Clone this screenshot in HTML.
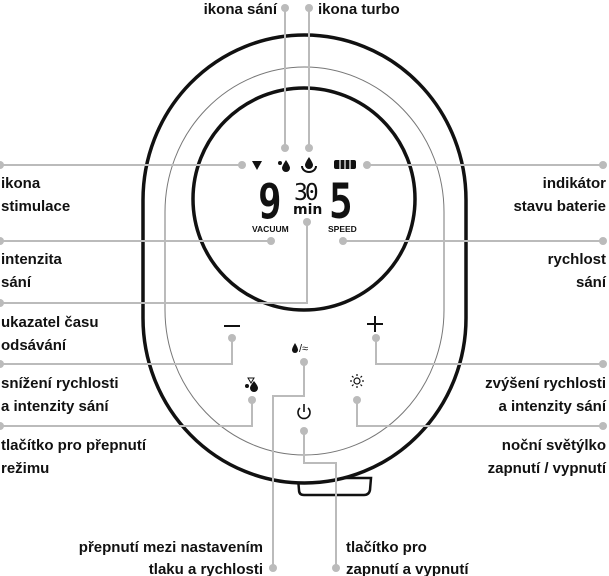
<!DOCTYPE html>
<html><head><meta charset="utf-8"><style>
html,body{margin:0;padding:0;background:#fff;}
svg{display:block;}
text{font-family:"Liberation Sans",sans-serif;font-weight:bold;font-size:15px;fill:#111;}
.g{stroke:#bbb;stroke-width:2;fill:none;}
.d{fill:#bbb;}
</style></head><body>
<svg width="609" height="576" viewBox="0 0 609 576" xmlns="http://www.w3.org/2000/svg">
<!-- device body -->
<path d="M298 478 L371 478 L370 490 Q369 495 364 495 L304 495 Q299 495 299 490 Z" fill="#fff" stroke="#111" stroke-width="2.5"/>
<rect x="143" y="35" width="323" height="448" rx="161.5" ry="165" fill="#fff" stroke="#111" stroke-width="3.5"/>
<rect x="165" y="67" width="279" height="388" rx="139.5" ry="145" fill="none" stroke="#777" stroke-width="1"/>
<circle cx="304" cy="199" r="111" fill="#fff" stroke="#111" stroke-width="3.5"/>

<!-- display icons -->
<path d="M252 161 L262 161 L257 170 Z" fill="#111"/>
<circle cx="280" cy="163" r="2" fill="#111"/>
<path d="M286 160 Q282 166 282 168 A4 4 0 0 0 290 168 Q290 166 286 160 Z" fill="#111"/>
<path d="M309 157 Q305 163 305 165 A4 4 0 0 0 313 165 Q313 163 309 157 Z" fill="#111"/>
<path d="M302 166 A7 6 0 0 0 316 166" fill="none" stroke="#111" stroke-width="2"/>
<rect x="334" y="160" width="22" height="9" rx="2" fill="#111"/>
<g stroke="#fff" stroke-width="1.2"><line x1="340" y1="160" x2="340" y2="169"/><line x1="345" y1="160" x2="345" y2="169"/><line x1="350" y1="160" x2="350" y2="169"/></g>
<text transform="translate(258,218) scale(0.82,1)" x="0" y="0" style="font-size:48px;font-family:'DejaVu Sans Mono','Liberation Mono',monospace;font-weight:bold">9</text>
<text x="294" y="200" style="font-size:23px;font-family:'DejaVu Sans Mono',monospace;font-weight:normal;letter-spacing:-3px">30</text>
<text x="293" y="214" style="font-size:14px;font-family:'DejaVu Sans',sans-serif;font-weight:bold">min</text>
<text transform="translate(329,218) scale(0.82,1)" x="0" y="0" style="font-size:48px;font-family:'DejaVu Sans Mono','Liberation Mono',monospace;font-weight:bold">5</text>
<text x="252" y="232" style="font-size:8.5px">VACUUM</text>
<text x="328" y="232" style="font-size:8.5px">SPEED</text>

<!-- buttons -->
<rect x="224" y="325" width="16" height="2" fill="#111"/>
<rect x="367" y="323" width="16" height="2" fill="#111"/><rect x="374" y="316" width="2" height="16" fill="#111"/>
<path d="M295 343 Q292 348 292 350 A3 3 0 0 0 298 350 Q298 348 295 343 Z" fill="#111"/>
<text x="299" y="352" style="font-size:11px;font-weight:normal">/≈</text>
<path d="M248 378 L254 378 L251 383 Z" fill="none" stroke="#111" stroke-width="1"/>
<circle cx="247" cy="386" r="2" fill="#111"/>
<path d="M254 381 Q250 386 250 388 A4 4 0 0 0 258 388 Q258 386 254 381 Z" fill="#111"/>
<circle cx="357" cy="381" r="3" fill="none" stroke="#111" stroke-width="1.2"/>
<g stroke="#111" stroke-width="1.2"><line x1="357" y1="374" x2="357" y2="376"/><line x1="357" y1="386" x2="357" y2="388"/><line x1="350" y1="381" x2="352" y2="381"/><line x1="362" y1="381" x2="364" y2="381"/><line x1="352" y1="376" x2="353.5" y2="377.5"/><line x1="360.5" y1="384.5" x2="362" y2="386"/><line x1="362" y1="376" x2="360.5" y2="377.5"/><line x1="352" y1="386" x2="353.5" y2="384.5"/></g>
<path d="M300 408 A6 6 0 1 0 308 408" fill="none" stroke="#111" stroke-width="1.6"/>
<line x1="304" y1="404" x2="304" y2="412" stroke="#111" stroke-width="1.6"/>

<!-- leaders -->
<polyline class="g" points="285,8 285,148"/><circle class="d" cx="285" cy="8" r="4"/><circle class="d" cx="285" cy="148" r="4"/>
<polyline class="g" points="309,8 309,148"/><circle class="d" cx="309" cy="8" r="4"/><circle class="d" cx="309" cy="148" r="4"/>
<polyline class="g" points="0,165 242,165"/><circle class="d" cx="0" cy="165" r="4"/><circle class="d" cx="242" cy="165" r="4"/>
<polyline class="g" points="367,165 603,165"/><circle class="d" cx="367" cy="165" r="4"/><circle class="d" cx="603" cy="165" r="4"/>
<polyline class="g" points="0,241 271,241"/><circle class="d" cx="0" cy="241" r="4"/><circle class="d" cx="271" cy="241" r="4"/>
<polyline class="g" points="343,241 603,241"/><circle class="d" cx="343" cy="241" r="4"/><circle class="d" cx="603" cy="241" r="4"/>
<polyline class="g" points="307,222 307,303 0,303"/><circle class="d" cx="307" cy="222" r="4"/><circle class="d" cx="0" cy="303" r="4"/>
<polyline class="g" points="232,338 232,364 0,364"/><circle class="d" cx="232" cy="338" r="4"/><circle class="d" cx="0" cy="364" r="4"/>
<polyline class="g" points="376,338 376,364 603,364"/><circle class="d" cx="376" cy="338" r="4"/><circle class="d" cx="603" cy="364" r="4"/>
<polyline class="g" points="252,400 252,426 0,426"/><circle class="d" cx="252" cy="400" r="4"/><circle class="d" cx="0" cy="426" r="4"/>
<polyline class="g" points="357,400 357,426 603,426"/><circle class="d" cx="357" cy="400" r="4"/><circle class="d" cx="603" cy="426" r="4"/>
<polyline class="g" points="304,362 304,396 273,396 273,568"/><circle class="d" cx="304" cy="362" r="4"/><circle class="d" cx="273" cy="568" r="4"/>
<polyline class="g" points="304,431 304,463 336,463 336,568"/><circle class="d" cx="304" cy="431" r="4"/><circle class="d" cx="336" cy="568" r="4"/>

<!-- labels -->
<text x="277" y="14" text-anchor="end">ikona sání</text>
<text x="318" y="14">ikona turbo</text>
<text x="1" y="188">ikona</text><text x="1" y="211">stimulace</text>
<text x="1" y="264">intenzita</text><text x="1" y="287">sání</text>
<text x="1" y="327">ukazatel času</text><text x="1" y="350">odsávání</text>
<text x="1" y="388">snížení rychlosti</text><text x="1" y="411">a intenzity sání</text>
<text x="1" y="450">tlačítko pro přepnutí</text><text x="1" y="473">režimu</text>
<text x="606" y="188" text-anchor="end">indikátor</text><text x="606" y="211" text-anchor="end">stavu baterie</text>
<text x="606" y="264" text-anchor="end">rychlost</text><text x="606" y="287" text-anchor="end">sání</text>
<text x="606" y="388" text-anchor="end">zvýšení rychlosti</text><text x="606" y="411" text-anchor="end">a intenzity sání</text>
<text x="606" y="450" text-anchor="end">noční světýlko</text><text x="606" y="473" text-anchor="end">zapnutí / vypnutí</text>
<text x="263" y="552" text-anchor="end">přepnutí  mezi  nastavením</text><text x="263" y="574" text-anchor="end">tlaku a rychlosti</text>
<text x="346" y="552">tlačítko pro</text><text x="346" y="574">zapnutí a vypnutí</text>
</svg>
</body></html>
